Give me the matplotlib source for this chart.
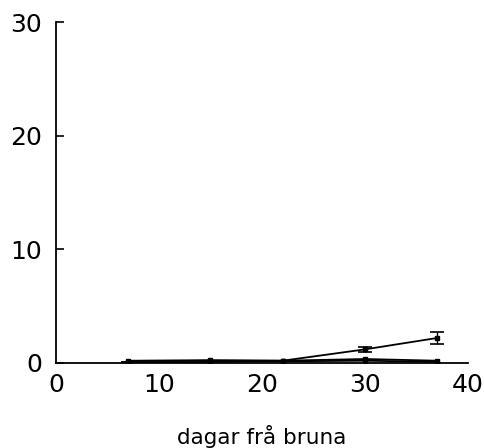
import numpy as np
import matplotlib.pyplot as plt

plt.rcParams['font.family'] = ['DejaVu Sans']

days = [7, 15, 22, 30, 37]
serie_a = [0.1, 0.2, 0.2, 1.2, 2.2]
serie_a_err = [0, 0, 0, 0.25, 0.55]
serie_b = [0.2, 0.25, 0.2, 0.35, 0.2]
serie_c = [0.0, 0.1, 0.15, 0.2, 0.1]

yticks = [0, 10, 20, 30]
xticks = [0, 10, 20, 30, 40]

fig = plt.figure(figsize=(4.85, 4.48), dpi=100)
ax = fig.add_axes([56/485, 1-363/448, (468-56)/485, (363-22)/448])

ax.errorbar(days, serie_a, yerr=serie_a_err, color='black', lw=1.3,
            marker='s', ms=3, capsize=5, capthick=1.2, elinewidth=1)
ax.plot(days, serie_b, color='black', lw=1.3, marker='s', ms=3)
ax.plot(days, serie_c, color='black', lw=1.3, marker='o', ms=3)

ax.set_xlim(0, 40)
ax.set_ylim(0, 30)
ax.spines['top'].set_visible(False)
ax.spines['right'].set_visible(False)
ax.spines['left'].set_linewidth(1.3)
ax.spines['bottom'].set_linewidth(1.3)

ax.set_yticks(yticks)
ax.set_yticklabels([str(v) for v in yticks])
ax.set_xticks(xticks)
ax.set_xticklabels([str(v) for v in xticks])
ax.tick_params(axis='y', direction='in', length=6, width=1.2, pad=10, labelsize=18)
ax.tick_params(axis='x', direction='in', length=0, pad=7, labelsize=18)
ax.set_xticks([40], minor=True)
ax.tick_params(axis='x', which='minor', direction='in', length=5, width=1.2)

ax.set_xlabel('dagar frå bruna', fontsize=15.5, labelpad=20)

fig.savefig('out.png', dpi=100)
